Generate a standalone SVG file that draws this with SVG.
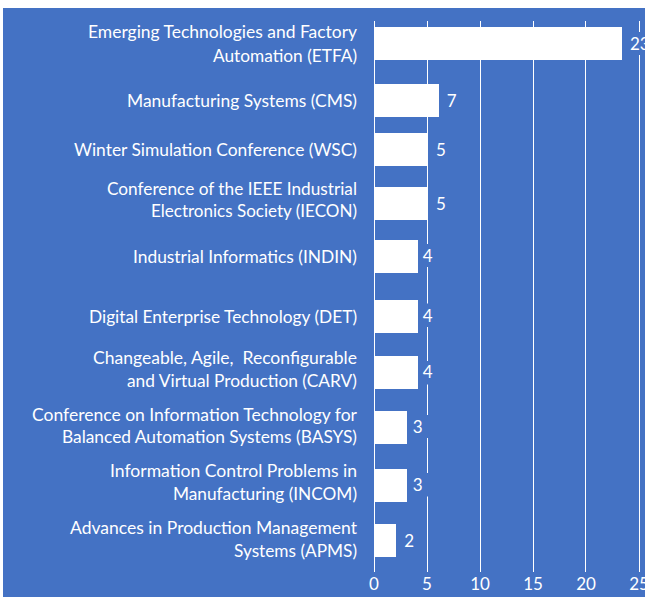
<svg xmlns="http://www.w3.org/2000/svg" width="645" height="597" viewBox="0 0 645 597">
<style>
.bg{fill:#4472C4}
.bar{fill:#FFFFFF}
.grid line{stroke:#FFFFFF;stroke-width:1}
.lbl{font-family:Lato,"Open Sans","Liberation Sans",sans-serif;font-size:16.4px;fill:#FFFFFF;text-anchor:end;white-space:pre}
.val{font-family:Lato,"Open Sans","Liberation Sans",sans-serif;font-size:17px;fill:#FFFFFF}
.tick{font-family:Lato,"Open Sans","Liberation Sans",sans-serif;font-size:17px;fill:#FFFFFF;text-anchor:middle}
.vbg{fill:#4472C4}
</style>
<rect x="0" y="0" width="645" height="597" fill="#FFFFFF"/>
<rect class="bg" x="3" y="8" width="642" height="589"/>
<g id="gridlines" class="grid">
<line x1="374.5" y1="21" x2="374.5" y2="572"/>
<line x1="427.5" y1="21" x2="427.5" y2="572"/>
<line x1="480.5" y1="21" x2="480.5" y2="572"/>
<line x1="533.5" y1="21" x2="533.5" y2="572"/>
<line x1="585.5" y1="21" x2="585.5" y2="572"/>
<line x1="639.5" y1="21" x2="639.5" y2="572"/>
</g>
<g id="connectors"></g>
<g id="bar-etfa">
<rect class="bar" x="374" y="27" width="248" height="33"/>
<text class="lbl" x="357" y="38.3" textLength="269" lengthAdjust="spacingAndGlyphs">Emerging Technologies and Factory</text>
<text class="lbl" x="357" y="61.7" textLength="144" lengthAdjust="spacingAndGlyphs">Automation (ETFA)</text>
<rect class="vbg" x="627" y="32" width="18" height="23"/>
<text class="val" x="630" y="50">23</text>
</g>
<g id="bar-cms">
<rect class="bar" x="374" y="84" width="65" height="33"/>
<text class="lbl" x="357" y="106.7" textLength="230" lengthAdjust="spacingAndGlyphs">Manufacturing Systems (CMS)</text>
<text class="val" x="446.7" y="106.5">7</text>
</g>
<g id="bar-wsc">
<rect class="bar" x="374" y="133" width="53" height="33"/>
<text class="lbl" x="357" y="155.7" textLength="283" lengthAdjust="spacingAndGlyphs">Winter Simulation Conference (WSC)</text>
<text class="val" x="436" y="156">5</text>
</g>
<g id="bar-iecon">
<rect class="bar" x="374" y="187" width="53" height="33"/>
<text class="lbl" x="357" y="195" textLength="250" lengthAdjust="spacingAndGlyphs">Conference of the IEEE Industrial</text>
<text class="lbl" x="357" y="217.3" textLength="206" lengthAdjust="spacingAndGlyphs">Electronics Society (IECON)</text>
<text class="val" x="436" y="210">5</text>
</g>
<g id="bar-indin">
<rect class="bar" x="374" y="240" width="44" height="33"/>
<text class="lbl" x="357" y="262.7" textLength="224" lengthAdjust="spacingAndGlyphs">Industrial Informatics (INDIN)</text>
<rect class="vbg" x="420" y="244" width="14" height="23"/>
<text class="val" x="422.7" y="261.7">4</text>
</g>
<g id="bar-det">
<rect class="bar" x="374" y="300" width="44" height="33"/>
<text class="lbl" x="357" y="323.3" textLength="268" lengthAdjust="spacingAndGlyphs">Digital Enterprise Technology (DET)</text>
<rect class="vbg" x="420" y="303.5" width="14" height="23.5"/>
<text class="val" x="422.7" y="321.7">4</text>
</g>
<g id="bar-carv">
<rect class="bar" x="374" y="356" width="44" height="33"/>
<text class="lbl" x="357" y="364" textLength="264" lengthAdjust="spacingAndGlyphs" xml:space="preserve">Changeable, Agile,  Reconfigurable</text>
<text class="lbl" x="357" y="386.7" textLength="230" lengthAdjust="spacingAndGlyphs">and Virtual Production (CARV)</text>
<rect class="vbg" x="420" y="361" width="14" height="23.5"/>
<text class="val" x="422.7" y="378.3">4</text>
</g>
<g id="bar-basys">
<rect class="bar" x="374" y="411" width="33" height="33"/>
<text class="lbl" x="357" y="420.7" textLength="325" lengthAdjust="spacingAndGlyphs">Conference on Information Technology for</text>
<text class="lbl" x="357" y="443.3" textLength="295" lengthAdjust="spacingAndGlyphs">Balanced Automation Systems (BASYS)</text>
<rect class="vbg" x="409" y="415" width="21" height="23"/>
<text class="val" x="412.7" y="433.3">3</text>
</g>
<g id="bar-incom">
<rect class="bar" x="374" y="469" width="33" height="33"/>
<text class="lbl" x="357" y="477.3" textLength="247" lengthAdjust="spacingAndGlyphs">Information Control Problems in</text>
<text class="lbl" x="357" y="500" textLength="184" lengthAdjust="spacingAndGlyphs">Manufacturing (INCOM)</text>
<rect class="vbg" x="409" y="473" width="21" height="23.5"/>
<text class="val" x="412.7" y="491">3</text>
</g>
<g id="bar-apms">
<rect class="bar" x="374" y="524" width="22" height="33"/>
<text class="lbl" x="357" y="534.3" textLength="287" lengthAdjust="spacingAndGlyphs">Advances in Production Management</text>
<text class="lbl" x="357" y="556.7" textLength="123" lengthAdjust="spacingAndGlyphs">Systems (APMS)</text>
<text class="val" x="404.3" y="546.7">2</text>
</g>
<g id="axis-labels">
<text class="tick" x="374" y="590">0</text>
<text class="tick" x="427" y="590">5</text>
<text class="tick" x="480" y="590">10</text>
<text class="tick" x="533" y="590">15</text>
<text class="tick" x="586" y="590">20</text>
<text class="tick" x="639" y="590">25</text>
</g>
</svg>
